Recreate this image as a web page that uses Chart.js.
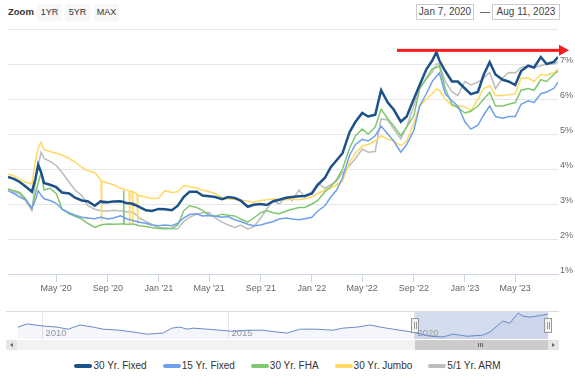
<!DOCTYPE html>
<html>
<head>
<meta charset="utf-8">
<script src="https://cdn.jsdelivr.net/npm/chart.js@4.4.0/dist/chart.umd.min.js"></script>
<style>
html,body{margin:0;padding:0;background:#fff;}
body{width:575px;height:379px;position:relative;overflow:hidden;font-family:"Liberation Sans",Arial,sans-serif;color:#333;}
canvas{position:absolute;left:0;}
#main{top:0;}
#nav{top:311px;}
.zl{position:absolute;left:8px;top:6px;font-size:9.5px;font-weight:bold;color:#333;}
.btn{position:absolute;top:4px;width:25px;height:17px;line-height:17px;background:#f7f7f7;font-size:9px;color:#333;text-align:center;}
.date{position:absolute;top:4px;height:14px;line-height:14px;border:1px solid #ccc;font-size:10px;color:#444;text-align:center;background:#fff;}
.dash{position:absolute;left:480px;top:4px;font-size:10px;color:#444;line-height:15px;}
#scroll{position:absolute;left:6px;top:340px;width:553px;height:10px;background:#f2f2f2;}
.sbtn{position:absolute;top:0;width:11px;height:10px;background:#e6e6e6;}
.sbtn i{position:absolute;top:3px;width:0;height:0;border-top:2px solid transparent;border-bottom:2px solid transparent;}
#thumb{position:absolute;top:0;height:10px;background:#cccccc;}
#thumb i{position:absolute;top:3px;width:1px;height:4px;background:#666;}
#legend{position:absolute;left:0;top:360px;width:575px;display:flex;justify-content:center;font-size:10px;color:#333;line-height:12px;}
.li{display:flex;align-items:center;margin:0 8px;}
.sym{display:inline-block;width:18px;height:4px;border-radius:2px;margin-right:1px;}
</style>
</head>
<body>
<div class="zl">Zoom</div>
<div class="btn" style="left:37px">1YR</div>
<div class="btn" style="left:65px">5YR</div>
<div class="btn" style="left:94px">MAX</div>
<div class="date" style="left:416px;width:56px">Jan 7, 2020</div>
<div class="dash">—</div>
<div class="date" style="left:492px;width:66px">Aug 11, 2023</div>

<canvas id="main" width="575" height="300"></canvas>
<canvas id="nav" width="575" height="28"></canvas>
<div id="scroll"></div>
<div id="legend"></div>

<script>
// Mortgage rate index, readings sampled off the chart
const dates = [
  '2020-01-07','2020-01-21','2020-02-04','2020-02-18','2020-03-04','2020-03-12','2020-03-19','2020-03-26','2020-04-02','2020-04-16',
  '2020-05-01','2020-05-15','2020-06-01','2020-06-15','2020-07-01','2020-07-15','2020-08-01','2020-08-15',
    '2020-08-16','2020-08-17','2020-08-18',
  '2020-09-01','2020-09-15',
  '2020-10-01','2020-10-08','2020-10-09','2020-10-10',
  '2020-10-15','2020-10-22','2020-10-23','2020-10-24','2020-10-29','2020-10-30','2020-10-31',
  '2020-11-01','2020-11-10','2020-11-11','2020-11-12',
  '2020-11-15','2020-12-01','2020-12-15','2021-01-01','2021-01-15','2021-02-01','2021-02-15',
  '2021-03-01','2021-03-15','2021-04-01','2021-04-15','2021-05-01','2021-05-15','2021-06-01','2021-06-15','2021-07-01','2021-07-15',
  '2021-08-01','2021-08-15','2021-09-01','2021-09-15','2021-10-01','2021-10-15','2021-11-01','2021-11-15','2021-12-01','2021-12-15',
  '2022-01-01','2022-01-15','2022-02-01','2022-02-15','2022-03-01','2022-03-15','2022-04-01','2022-04-15','2022-05-01','2022-05-15',
  '2022-06-01','2022-06-15','2022-07-01','2022-07-15','2022-08-01','2022-08-15','2022-09-01','2022-09-15','2022-10-01','2022-10-15',
  '2022-10-25','2022-11-01','2022-11-15','2022-12-01','2022-12-15','2023-01-01','2023-01-15','2023-02-01','2023-02-15','2023-03-01',
  '2023-03-15','2023-04-01','2023-04-15','2023-05-01','2023-05-15','2023-06-01','2023-06-15','2023-07-01','2023-07-15','2023-08-01',
  '2023-08-11'
];

const fixed30 = [
  3.77,3.72,3.63,3.5,3.35,3.7,4.12,3.9,3.6,3.55,
  3.48,3.33,3.3,3.18,3.1,3.08,2.95,3.08,
    3.08,3.08,3.07,
  3.05,3.07,
  3.08,3.06,3.06,3.05,
  3.03,3.02,3.02,3.02,3.01,3.01,3.0,
  3.0,2.95,2.95,2.94,
  2.92,2.82,2.8,2.86,2.85,2.82,2.95,
  3.2,3.35,3.35,3.24,3.22,3.2,3.14,3.2,3.17,3.1,
  2.92,2.98,3.0,2.97,3.08,3.12,3.18,3.2,3.22,3.23,
  3.3,3.55,3.75,4.05,4.25,4.45,5.06,5.35,5.6,5.5,
  5.55,6.25,5.9,5.7,5.35,5.5,6.0,6.4,6.85,7.1,
  7.34,7.1,6.8,6.5,6.5,6.3,6.14,6.2,6.7,7.05,
  6.7,6.55,6.5,6.4,6.8,6.95,6.9,7.2,7.0,7.06,
  7.2
];
const fixed15 = [
  3.38,3.3,3.2,3.12,2.88,3.1,3.38,3.25,3.15,3.1,
  3.02,2.85,2.75,2.68,2.62,2.6,2.58,2.62,
    2.62,2.62,2.62,
  2.57,2.6,
  2.66,2.63,2.63,2.62,
  2.58,2.56,2.56,2.56,2.54,2.54,2.53,
  2.52,2.5,2.5,2.49,
  2.48,2.45,2.4,2.38,2.4,2.38,2.45,
  2.6,2.7,2.72,2.66,2.67,2.65,2.62,2.64,2.55,2.5,
  2.42,2.38,2.4,2.45,2.5,2.57,2.6,2.57,2.55,2.58,
  2.62,2.8,2.95,3.2,3.4,3.75,4.4,4.7,4.85,4.8,
  4.95,5.22,5.0,4.8,4.48,4.7,5.1,5.8,6.15,6.5,
  6.65,6.75,6.15,5.95,5.8,5.35,5.14,5.25,5.55,5.8,
  5.5,5.45,5.5,5.5,5.85,5.95,5.9,6.15,6.2,6.3,
  6.48
];
const fha30 = [
  3.43,3.38,3.33,3.15,2.86,3.3,3.6,3.9,3.4,3.45,
  3.3,2.86,2.72,2.65,2.57,2.45,2.33,2.4,
    2.4,2.4,2.41,
  2.43,2.42,
  2.43,2.43,3.38,2.43,
  2.42,2.42,2.42,2.42,2.43,2.43,2.43,
  2.43,2.4,2.4,2.39,
  2.38,2.36,2.33,2.3,2.29,2.3,2.4,
  2.8,2.95,2.9,2.82,2.68,2.65,2.71,2.68,2.66,2.57,
  2.48,2.6,2.75,2.81,2.75,2.72,2.8,2.85,2.9,2.9,
  3.0,3.1,3.35,3.5,3.7,4.0,4.6,4.95,5.14,5.0,
  5.2,5.71,5.43,5.24,4.95,5.2,5.52,6.29,6.6,6.86,
  6.9,6.95,6.3,5.85,5.75,5.6,5.65,5.8,6.0,6.19,
  5.8,5.8,5.85,5.9,6.25,6.3,6.25,6.55,6.5,6.7,
  6.8
];
const jumbo30 = [
  3.86,3.8,3.71,3.62,3.57,4.2,4.6,4.77,4.55,4.5,
  4.45,4.4,4.3,4.2,4.05,3.95,3.9,3.7,
    3.68,2.5,3.66,
  3.6,3.55,
  3.45,3.43,3.43,3.42,
  3.4,3.38,2.45,3.37,3.36,2.45,3.35,
  3.35,3.28,2.45,3.27,
  3.24,3.2,3.15,3.17,3.38,3.33,3.35,
  3.52,3.5,3.45,3.4,3.35,3.3,3.18,3.14,3.15,3.12,
  3.08,3.05,3.1,3.12,3.15,3.12,3.12,3.14,3.12,3.15,
  3.2,3.3,3.4,3.45,3.55,3.65,4.2,4.45,4.66,4.7,
  4.8,4.95,4.85,4.8,4.67,4.8,5.3,5.8,6.0,6.15,
  6.29,6.25,6.0,5.81,5.81,5.78,5.67,6.0,6.3,6.38,
  6.1,6.1,6.12,6.15,6.6,6.6,6.5,6.7,6.68,6.75,
  6.86
];
const arm51 = [
  3.43,3.35,3.29,3.1,2.81,3.6,4.1,4.48,4.3,4.22,
  4.1,3.9,3.62,3.4,3.24,2.95,2.85,2.81,
    2.81,2.81,2.81,
  2.8,2.82,
  2.8,2.8,2.8,2.79,
  2.78,2.77,2.77,2.77,2.76,2.76,2.76,
  2.76,2.66,2.66,2.65,
  2.6,2.5,2.42,2.33,2.32,2.3,2.29,
  2.5,2.62,2.71,2.75,2.76,2.6,2.48,2.4,2.33,2.4,
  2.29,2.35,2.6,2.85,3.1,3.0,3.2,3.1,3.4,3.2,
  3.35,3.6,3.45,3.55,3.65,3.9,4.1,4.3,4.57,4.48,
  4.5,5.43,5.4,5.15,4.86,5.2,5.81,6.3,6.57,6.76,
  7.0,7.0,6.5,6.2,6.1,6.5,6.4,6.48,6.6,6.76,
  6.3,6.6,6.76,6.75,6.9,6.95,6.9,6.95,7.0,7.0,
  7.05
];

const seriesNames = ['30 Yr. Fixed','15 Yr. Fixed','30 Yr. FHA','30 Yr. Jumbo','5/1 Yr. ARM'];
const seriesColors = ['#1d5289','#6fa0ec','#80c870','#ffd965','#bcbcbc'];
const seriesWidths = [2.5,1.5,1.5,1.5,1.5];

const tickDates = ['2020-05-01','2020-09-01','2021-01-01','2021-05-01','2021-09-01','2022-01-01','2022-05-01','2022-09-01','2023-01-01','2023-05-01'];
const tickLabels = ["May '20","Sep '20","Jan '21","May '21","Sep '21","Jan '22","May '22","Sep '22","Jan '23","May '23"];
const startDate = '2020-01-07', endDate = '2023-08-11';

// navigator: 30 yr fixed over the full history (decimal years)
const navYears = [2009.35,2009.6,2010.03,2010.4,2010.7,2011.02,2011.37,2011.64,2012.1,2012.45,2012.82,2013.25,2013.49,2013.71,2013.9,
  2014.06,2014.44,2014.78,2015.13,2015.51,2015.94,2016.32,2016.59,2016.94,2017.39,2017.82,2018.09,2018.47,2018.82,2019.09,2019.44,
  2019.81,2020.08,2020.43,2020.78,2021.05,2021.42,2021.85,2022.04,2022.23,2022.39,2022.58,2022.8,2022.93,2023.12,2023.31,2023.47,2023.6];
const navRates = [4.7,5.3,4.9,4.7,4.3,5.1,4.7,4.3,4.1,3.75,3.35,3.55,4.5,4.7,4.3,
  4.5,4.3,4.1,3.9,4.1,4.1,3.75,3.55,4.3,4.3,4.1,4.5,4.7,5.1,4.7,4.3,
  3.9,3.55,2.95,2.8,3.35,2.95,3.15,3.75,4.9,5.85,5.45,7.4,6.8,6.6,6.8,7.0,7.2];
const navGridYears = [2010, 2015, 2020];

const FONT = '"Liberation Sans", Arial, sans-serif';
const toDay = s => Date.UTC(+s.slice(0,4), +s.slice(5,7)-1, +s.slice(8,10)) / 864e5;
const toYear = s => { const d = toDay(s), y = +s.slice(0,4); const a = Date.UTC(y,0,1)/864e5, b = Date.UTC(y+1,0,1)/864e5; return y + (d-a)/(b-a); };

const allSeries = [fixed30, fixed15, fha30, jumbo30, arm51];
const datasets = allSeries.map((vals, k) => ({
  label: seriesNames[k],
  data: dates.map((d, i) => ({x: toDay(d), y: vals[i]})),
  borderColor: seriesColors[k],
  borderWidth: seriesWidths[k],
  pointRadius: 0,
  tension: 0,
  fill: false,
}));

// red arrow annotation across the top
const arrowFrom = '2022-07-23', arrowLevel = 7.39;
const arrowPlugin = {
  id: 'arrow',
  afterDatasetsDraw(chart){
    const {ctx, chartArea, scales:{x, y}} = chart;
    const x0 = x.getPixelForValue(toDay(arrowFrom));
    const yy = y.getPixelForValue(arrowLevel);
    const tip = chartArea.right + 11;
    ctx.save();
    ctx.fillStyle = '#f21d1d';
    ctx.fillRect(x0, yy - 1.5, tip - 10 - x0, 3);
    ctx.beginPath();
    ctx.moveTo(tip - 10, yy - 5.5);
    ctx.lineTo(tip, yy);
    ctx.lineTo(tip - 10, yy + 5.5);
    ctx.closePath();
    ctx.fill();
    ctx.restore();
  }
};

new Chart(document.getElementById('main'), {
  type: 'line',
  data: { datasets },
  options: {
    responsive: false,
    animation: false,
    layout: { padding: { left: 8, top: 29, right: 0, bottom: 0 } },
    plugins: { legend: { display: false }, tooltip: { enabled: false } },
    scales: {
      x: {
        type: 'linear',
        min: toDay(startDate),
        max: toDay(endDate),
        afterBuildTicks: s => { s.ticks = tickDates.map(d => ({ value: toDay(d) })); },
        afterFit: s => { s.height = 26; },
        grid: { drawOnChartArea: false, color: '#ccd6eb', tickLength: 8 },
        border: { color: '#ccd6eb' },
        ticks: {
          autoSkip: false, maxRotation: 0, padding: 1,
          color: '#666', font: { size: 9, family: FONT },
          callback: (v, i) => tickLabels[i]
        }
      },
      y: {
        position: 'right',
        min: 1, max: 8,
        afterFit: s => { s.width = 17; },
        grid: { color: '#e6e6e6', drawTicks: false },
        border: { display: false },
        ticks: {
          stepSize: 1, padding: 2, labelOffset: -3,
          color: '#666', font: { size: 9, family: FONT },
          callback: v => v === 8 ? '' : v + '%'
        }
      }
    }
  },
  plugins: [arrowPlugin]
});

// navigator
const selFrom = toYear(startDate), selTo = toYear(endDate);
const navPlugin = {
  id: 'navDeco',
  beforeDatasetsDraw(chart){
    const {ctx, chartArea:a, scales:{x}} = chart;
    ctx.save();
    ctx.fillStyle = 'rgba(102,133,194,0.28)';
    const s0 = x.getPixelForValue(selFrom), s1 = x.getPixelForValue(selTo);
    ctx.fillRect(s0, a.top, s1 - s0, a.bottom - a.top);
    ctx.strokeStyle = '#e6e6e6';
    ctx.lineWidth = 1;
    ctx.font = '9.5px ' + FONT;
    ctx.fillStyle = '#999';
    navGridYears.forEach(yr => {
      const px = Math.round(x.getPixelForValue(yr)) + 0.5;
      ctx.beginPath(); ctx.moveTo(px, a.top); ctx.lineTo(px, a.bottom); ctx.stroke();
      ctx.fillText(String(yr), px + 3, a.bottom - 3);
    });
    ctx.strokeStyle = '#dcdcdc';
    ctx.beginPath(); ctx.moveTo(a.left, a.top + 0.5); ctx.lineTo(a.right, a.top + 0.5); ctx.stroke();
    ctx.restore();
  },
  afterDatasetsDraw(chart){
    const {ctx, chartArea:a, scales:{x}} = chart;
    ctx.save();
    [selFrom, selTo].forEach(v => {
      const px = Math.round(x.getPixelForValue(v));
      ctx.fillStyle = '#f2f2f2';
      ctx.strokeStyle = '#999';
      ctx.lineWidth = 1;
      ctx.fillRect(px - 3.5, a.top + 7.5, 7, 14);
      ctx.strokeRect(px - 3.5, a.top + 7.5, 7, 14);
      ctx.beginPath();
      ctx.moveTo(px - 0.5, a.top + 11); ctx.lineTo(px - 0.5, a.top + 18);
      ctx.moveTo(px + 1.5, a.top + 11); ctx.lineTo(px + 1.5, a.top + 18);
      ctx.stroke();
    });
    ctx.restore();
  }
};

const navChart = new Chart(document.getElementById('nav'), {
  type: 'line',
  data: {
    datasets: [{
      data: navYears.map((yr, i) => ({ x: yr, y: navRates[i] })),
      borderColor: '#6a89c8',
      borderWidth: 1,
      backgroundColor: 'rgba(102,133,194,0.07)',
      fill: 'start',
      pointRadius: 0,
      tension: 0
    }]
  },
  options: {
    responsive: false,
    animation: false,
    layout: { padding: { left: 6, right: 16, top: 0, bottom: 0 } },
    plugins: { legend: { display: false }, tooltip: { enabled: false } },
    scales: {
      x: { type: 'linear', display: false, min: 2009.03, max: 2023.9 },
      y: { display: false, min: 2.42, max: 7.78 }
    }
  },
  plugins: [navPlugin]
});

// scrollbar follows the navigator selection
(function buildScroll(){
  const sc = document.getElementById('scroll');
  const x = navChart.scales.x;
  const left = x.getPixelForValue(selFrom) - 6, right = x.getPixelForValue(selTo) - 6;
  sc.innerHTML =
    '<div class="sbtn" style="left:0"><i style="left:4px;border-right:3px solid #666"></i></div>' +
    '<div id="thumb" style="left:' + left + 'px;width:' + (right - left) + 'px">' +
      '<i style="left:' + ((right-left)/2 - 3) + 'px"></i><i style="left:' + ((right-left)/2 - 1) + 'px"></i><i style="left:' + ((right-left)/2 + 1) + 'px"></i></div>' +
    '<div class="sbtn" style="left:' + (right) + 'px"><i style="left:4px;border-left:3px solid #666"></i></div>';
})();

// legend
const lg = document.getElementById('legend');
seriesNames.forEach((n, k) => {
  const el = document.createElement('div');
  el.className = 'li';
  el.innerHTML = '<span class="sym" style="background:' + seriesColors[k] + '"></span>' + n;
  lg.appendChild(el);
});
</script>
</body>
</html>
